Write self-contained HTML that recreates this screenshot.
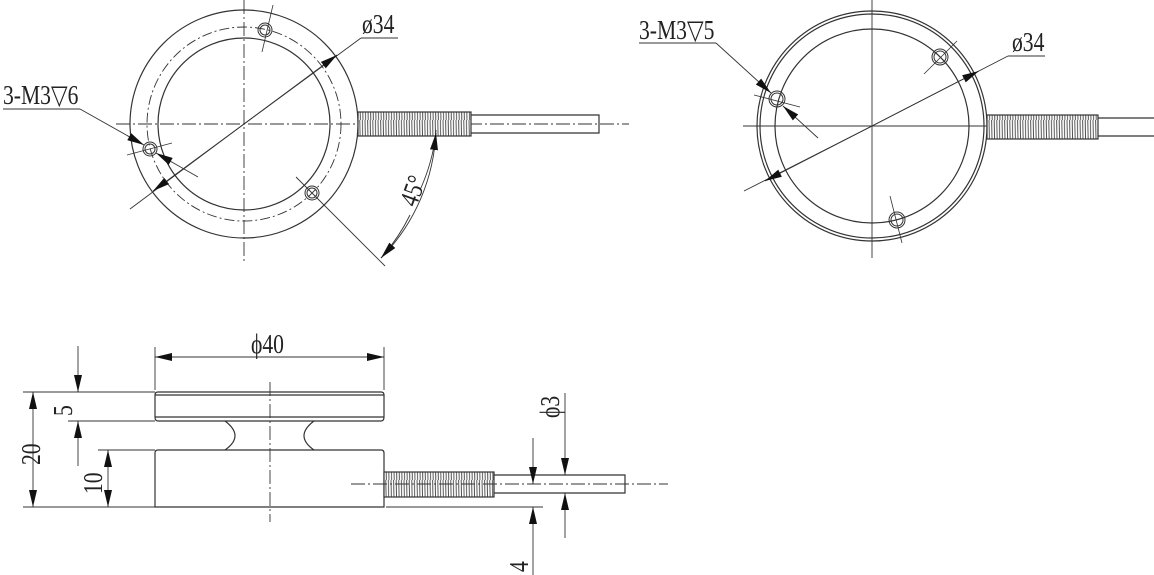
<!DOCTYPE html>
<html><head><meta charset="utf-8"><style>
html,body{margin:0;padding:0;background:#fff;}
svg{display:block;}
text{font-family:"Liberation Serif","DejaVu Serif",serif;fill:#222;}
</style></head><body>
<svg width="1154" height="575" viewBox="0 0 1154 575" xmlns="http://www.w3.org/2000/svg">
<defs>
<marker id="a" viewBox="0 0 17 8" refX="17" refY="4" markerWidth="17" markerHeight="8" markerUnits="userSpaceOnUse" orient="auto"><path d="M0,0 L17,4 L0,8 z" fill="#111"/></marker>
<pattern id="th" width="2.6" height="30" patternUnits="userSpaceOnUse"><rect width="2.6" height="30" fill="#fff"/><line x1="1" y1="0" x2="1.6" y2="30" stroke="#444" stroke-width="0.9"/></pattern>
</defs>
<g fill="none" stroke="#333" stroke-width="1.2">
<ellipse cx="244" cy="124" rx="114" ry="114"/>
<circle cx="244" cy="124" r="97" stroke-dasharray="10,3,2,3" stroke-width="0.9"/>
<circle cx="244" cy="124" r="86"/>
<line x1="116" y1="124" x2="629" y2="124" stroke-dasharray="14,3,2,3" stroke-width="0.9"/>
<line x1="244" y1="0" x2="244" y2="262" stroke-dasharray="14,3,2,3" stroke-width="0.9"/>
<rect x="358" y="112" width="113" height="24" fill="url(#th)"/>
<path d="M471,115 H599 V133 H471"/>
<g stroke-width="1"><circle cx="265" cy="30" r="7"/><circle cx="265" cy="30" r="5"/>
<circle cx="150" cy="149" r="7"/><circle cx="150" cy="149" r="5"/>
<circle cx="312" cy="193" r="7"/><circle cx="312" cy="193" r="5"/></g>
<line x1="273" y1="5" x2="262" y2="52" stroke-width="0.8"/>
<line x1="127" y1="155" x2="172" y2="143" stroke-width="0.8"/>
<line x1="296" y1="177" x2="385" y2="266" stroke-width="0.9"/>
<line x1="130" y1="209" x2="244" y2="124" stroke-width="0.9"/>
<line x1="244" y1="124" x2="361" y2="38" stroke-width="0.9"/>
<line x1="244" y1="124" x2="337" y2="55" marker-end="url(#a)" stroke-width="0.9"/>
<line x1="244" y1="124" x2="153" y2="191" marker-end="url(#a)" stroke-width="0.9"/>
<line x1="361" y1="38" x2="398" y2="38" stroke-width="0.9"/>
<line x1="3" y1="109" x2="80" y2="109" stroke-width="0.9"/>
<line x1="80" y1="109" x2="144" y2="145" marker-end="url(#a)" stroke-width="0.9"/>
<line x1="198" y1="177" x2="156" y2="153" marker-end="url(#a)" stroke-width="0.9"/>
<path d="M436,130 A192,192 0 0 1 381,258" stroke-width="0.9"/>
<path d="M420,190 A192,192 0 0 0 436,133" marker-end="url(#a)" stroke-width="0.9"/>
<path d="M410,215 A192,192 0 0 1 381,258" marker-end="url(#a)" stroke-width="0.9"/>

<circle cx="872" cy="126" r="115"/>
<circle cx="872" cy="126" r="112"/>
<circle cx="872" cy="126" r="97"/>
<line x1="743" y1="126" x2="998" y2="126" stroke-width="0.9"/>
<line x1="872" y1="0" x2="872" y2="258" stroke-width="0.9"/>
<rect x="987" y="115" width="111" height="24" fill="url(#th)"/>
<path d="M1098,118 H1154 M1098,136 H1154"/>
<g stroke-width="1"><circle cx="940" cy="57" r="8"/><circle cx="940" cy="57" r="6"/>
<circle cx="777" cy="99" r="8"/><circle cx="777" cy="99" r="6"/>
<circle cx="897" cy="220" r="8"/><circle cx="897" cy="220" r="6"/></g>
<line x1="957" y1="41" x2="924" y2="74" stroke-width="0.8"/>
<line x1="754" y1="95" x2="800" y2="107" stroke-width="0.8"/>
<line x1="890" y1="196" x2="902" y2="243" stroke-width="0.8"/>
<line x1="744" y1="191" x2="872" y2="126" stroke-width="0.9"/>
<line x1="872" y1="126" x2="1008" y2="56" stroke-width="0.9"/>
<line x1="872" y1="126" x2="979" y2="71" marker-end="url(#a)" stroke-width="0.9"/>
<line x1="872" y1="126" x2="765" y2="181" marker-end="url(#a)" stroke-width="0.9"/>
<line x1="1008" y1="56" x2="1045" y2="56" stroke-width="0.9"/>
<line x1="639" y1="43" x2="716" y2="43" stroke-width="0.9"/>
<line x1="716" y1="43" x2="771" y2="93" marker-end="url(#a)" stroke-width="0.9"/>
<line x1="818" y1="138" x2="783" y2="106" marker-end="url(#a)" stroke-width="0.9"/>

<path d="M158,392 H381 Q384,392 384,395 V417 Q384,421 381,421 H158 Q155,421 155,417 V395 Q155,392 158,392 Z"/>
<path d="M158,450 H381 Q384,450 384,453 V507 H155 V453 Q155,450 158,450 Z"/>
<path d="M155,395 H384 M155,417 H384"/>
<path d="M225,421 Q245,436 225,450 M314,421 Q294,436 314,450"/>
<line x1="270" y1="382" x2="270" y2="522" stroke-dasharray="14,3,2,3" stroke-width="0.9"/>
<rect x="384" y="472" width="110" height="25" fill="url(#th)"/>
<path d="M494,475 H625 V493 H494"/>
<line x1="351" y1="484" x2="668" y2="484" stroke-dasharray="14,3,2,3" stroke-width="0.9"/>
<line x1="155" y1="347" x2="155" y2="390" stroke-width="0.9"/>
<line x1="384" y1="347" x2="384" y2="390" stroke-width="0.9"/>
<line x1="270" y1="357" x2="155" y2="357" marker-end="url(#a)" stroke-width="0.9"/>
<line x1="270" y1="357" x2="384" y2="357" marker-end="url(#a)" stroke-width="0.9"/>
<g stroke-width="0.9">
<line x1="23" y1="392" x2="155" y2="392"/>
<line x1="68" y1="421" x2="155" y2="421"/>
<line x1="98" y1="450" x2="155" y2="450"/>
<line x1="23" y1="507" x2="155" y2="507"/>
<line x1="33" y1="450" x2="33" y2="392" marker-end="url(#a)"/>
<line x1="33" y1="450" x2="33" y2="507" marker-end="url(#a)"/>
<line x1="78" y1="346" x2="78" y2="392" marker-end="url(#a)"/>
<line x1="78" y1="466" x2="78" y2="421" marker-end="url(#a)"/>
<line x1="108" y1="478" x2="108" y2="450" marker-end="url(#a)"/>
<line x1="108" y1="478" x2="108" y2="507" marker-end="url(#a)"/>
<line x1="386" y1="507" x2="543" y2="507"/>
<line x1="565" y1="393" x2="565" y2="475" marker-end="url(#a)"/>
<line x1="565" y1="538" x2="565" y2="493" marker-end="url(#a)"/>
<line x1="533" y1="438" x2="533" y2="484" marker-end="url(#a)"/>
<line x1="533" y1="575" x2="533" y2="507" marker-end="url(#a)"/>
</g>
</g>
<g font-size="27">
<text transform="translate(362,33) scale(0.8,1)">ø34</text>
<text transform="translate(3,104) scale(0.8,1)">3-M3▽6</text>
<text transform="translate(416,208) rotate(-70) scale(0.8,1)">45°</text>
<text transform="translate(1012,51) scale(0.8,1)">ø34</text>
<text transform="translate(639,39) scale(0.8,1)">3-M3▽5</text>
<text transform="translate(251,353) scale(0.8,1)">ϕ40</text>
<text transform="translate(40,465) rotate(-90) scale(0.8,1)">20</text>
<text transform="translate(72,416) rotate(-90) scale(0.8,1)">5</text>
<text transform="translate(102,494) rotate(-90) scale(0.8,1)">10</text>
<text transform="translate(559,418) rotate(-90) scale(0.8,1)">ϕ3</text>
<text transform="translate(528,572) rotate(-90) scale(0.8,1)">4</text>
</g>
</svg>
</body></html>
